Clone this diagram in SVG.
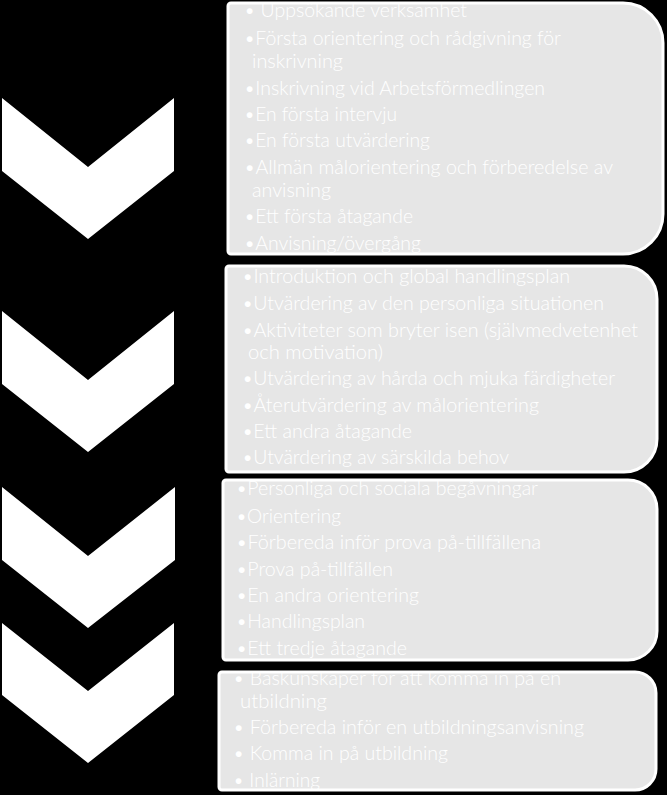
<svg xmlns="http://www.w3.org/2000/svg" width="667" height="795" viewBox="0 0 667 795">
<style>
.chev{fill:#ffffff;}
.box{fill:#e6e6e6;stroke:#ffffff;stroke-width:3;}
.t{fill:#ffffff;font-family:Lato,"Open Sans","Liberation Sans",sans-serif;font-size:19px;font-weight:300;}
</style>
<defs>
<path id="b1" d="M231,3 H623 A40,40 0 0 1 663,43 V214 A40,40 0 0 1 623,254 H231 A3,3 0 0 1 228,251 V6 A3,3 0 0 1 231,3 Z"/>
<path id="b2" d="M229,266 H624 A33,33 0 0 1 657,299 V439 A33,33 0 0 1 624,472 H229 A3,3 0 0 1 226,469 V269 A3,3 0 0 1 229,266 Z"/>
<path id="b3" d="M226,480 H628 A29,29 0 0 1 657,509 V631 A29,29 0 0 1 628,660 H226 A3,3 0 0 1 223,657 V483 A3,3 0 0 1 226,480 Z"/>
<path id="b4" d="M222,672 H635 A21,21 0 0 1 656,693 V769 A21,21 0 0 1 635,790 H222 A3,3 0 0 1 219,787 V675 A3,3 0 0 1 222,672 Z"/>
<clipPath id="c1"><use href="#b1"/></clipPath>
<clipPath id="c2"><use href="#b2"/></clipPath>
<clipPath id="c3"><use href="#b3"/></clipPath>
<clipPath id="c4"><use href="#b4"/></clipPath>
</defs>
<rect x="0" y="0" width="667" height="795" fill="#000000"/>
<g id="chevron1"><polygon class="chev" points="2,98 88,167 174,98 174,171 88,239 2,171"/></g>
<g id="chevron2"><polygon class="chev" points="2,311 88,380 174,311 174,384 88,452 2,384"/></g>
<g id="chevron3"><polygon class="chev" points="2,487 88,556 175,487 175,560 88,628 2,560"/></g>
<g id="chevron4"><polygon class="chev" points="2,623 88,691 174,623 174,695 88,763 2,695"/></g>
<g id="connectors"></g>
<g id="box1">
<use href="#b1" class="box"/>
<g clip-path="url(#c1)">
<text class="t" x="244" y="17" textLength="223" lengthAdjust="spacingAndGlyphs">• Uppsökande verksamhet</text>
<text class="t" x="244" y="45" textLength="317" lengthAdjust="spacingAndGlyphs">•Första orientering och rådgivning för</text>
<text class="t" x="252" y="68" textLength="91" lengthAdjust="spacingAndGlyphs">inskrivning</text>
<text class="t" x="244" y="95" textLength="301" lengthAdjust="spacingAndGlyphs">•Inskrivning vid Arbetsförmedlingen</text>
<text class="t" x="244" y="121" textLength="153" lengthAdjust="spacingAndGlyphs">•En första intervju</text>
<text class="t" x="244" y="147" textLength="186" lengthAdjust="spacingAndGlyphs">•En första utvärdering</text>
<text class="t" x="244" y="174" textLength="369" lengthAdjust="spacingAndGlyphs">•Allmän målorientering och förberedelse  av</text>
<text class="t" x="252" y="197" textLength="79" lengthAdjust="spacingAndGlyphs">anvisning</text>
<text class="t" x="244" y="223" textLength="169" lengthAdjust="spacingAndGlyphs">•Ett första åtagande</text>
<text class="t" x="244" y="250" textLength="177" lengthAdjust="spacingAndGlyphs">•Anvisning/övergång</text>
</g>
</g>
<g id="box2">
<use href="#b2" class="box"/>
<g clip-path="url(#c2)">
<text class="t" x="242" y="283" textLength="328" lengthAdjust="spacingAndGlyphs">•Introduktion och global handlingsplan</text>
<text class="t" x="242" y="310" textLength="362" lengthAdjust="spacingAndGlyphs">•Utvärdering av den personliga situationen</text>
<text class="t" x="242" y="337" textLength="396" lengthAdjust="spacingAndGlyphs">•Aktiviteter som bryter isen (självmedvetenhet</text>
<text class="t" x="248" y="359" textLength="135" lengthAdjust="spacingAndGlyphs">och motivation)</text>
<text class="t" x="242" y="385" textLength="373" lengthAdjust="spacingAndGlyphs">•Utvärdering av hårda och mjuka färdigheter</text>
<text class="t" x="242" y="412" textLength="297" lengthAdjust="spacingAndGlyphs">•Återutvärdering av målorientering</text>
<text class="t" x="242" y="438" textLength="170" lengthAdjust="spacingAndGlyphs">•Ett andra åtagande</text>
<text class="t" x="242" y="464" textLength="267" lengthAdjust="spacingAndGlyphs">•Utvärdering av särskilda behov</text>
</g>
</g>
<g id="box3">
<use href="#b3" class="box"/>
<g clip-path="url(#c3)">
<text class="t" x="236" y="495" textLength="302" lengthAdjust="spacingAndGlyphs">•Personliga och sociala begåvningar</text>
<text class="t" x="236" y="523" textLength="105" lengthAdjust="spacingAndGlyphs">•Orientering</text>
<text class="t" x="236" y="549" textLength="305" lengthAdjust="spacingAndGlyphs">•Förbereda inför prova på-tillfällena</text>
<text class="t" x="236" y="576" textLength="157" lengthAdjust="spacingAndGlyphs">•Prova på-tillfällen</text>
<text class="t" x="236" y="602" textLength="183" lengthAdjust="spacingAndGlyphs">•En andra orientering</text>
<text class="t" x="236" y="628" textLength="129" lengthAdjust="spacingAndGlyphs">•Handlingsplan</text>
<text class="t" x="236" y="655" textLength="171" lengthAdjust="spacingAndGlyphs">•Ett tredje åtagande</text>
</g>
</g>
<g id="box4">
<use href="#b4" class="box"/>
<g clip-path="url(#c4)">
<text class="t" x="233" y="685" textLength="328" lengthAdjust="spacingAndGlyphs">• Baskunskaper för att komma in på en</text>
<text class="t" x="240" y="708" textLength="87" lengthAdjust="spacingAndGlyphs">utbildning</text>
<text class="t" x="233" y="734" textLength="351" lengthAdjust="spacingAndGlyphs">• Förbereda inför en utbildningsanvisning</text>
<text class="t" x="233" y="760" textLength="215" lengthAdjust="spacingAndGlyphs">• Komma in på utbildning</text>
<text class="t" x="233" y="787" textLength="87" lengthAdjust="spacingAndGlyphs">• Inlärning</text>
</g>
</g>
</svg>
